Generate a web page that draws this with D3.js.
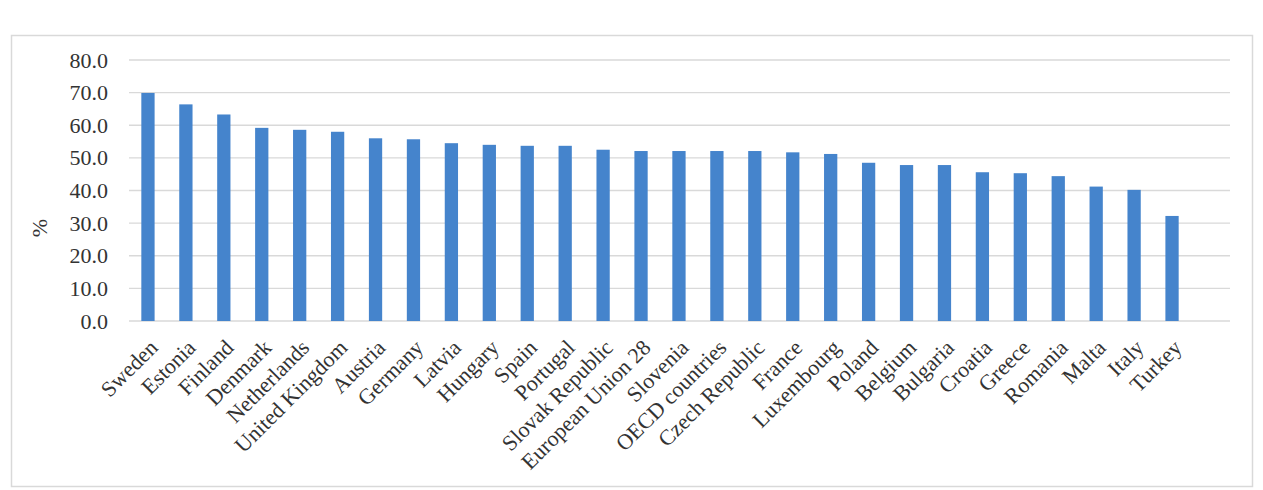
<!DOCTYPE html>
<html>
<head>
<meta charset="utf-8">
<script src="https://cdn.jsdelivr.net/npm/d3@7"></script>
<style>
  html, body { margin: 0; padding: 0; background: #fff; }
  svg { display: block; font-family: "Liberation Serif", "Times New Roman", serif; }
  .grid line { stroke: #d9d9d9; stroke-width: 1.3; }
  .tick text { fill: #333; }
</style>
</head>
<body>
<svg width="1263" height="490"></svg>
<script>
const countries = [
  'Sweden', 'Estonia', 'Finland', 'Denmark', 'Netherlands', 'United Kingdom',
  'Austria', 'Germany', 'Latvia', 'Hungary', 'Spain', 'Portugal',
  'Slovak Republic', 'European Union 28', 'Slovenia', 'OECD countries',
  'Czech Republic', 'France', 'Luxembourg', 'Poland', 'Belgium', 'Bulgaria',
  'Croatia', 'Greece', 'Romania', 'Malta', 'Italy', 'Turkey'
]
const shares = [
  69.9, 66.4, 63.3, 59.2, 58.6, 58.0,
  56.0, 55.7, 54.5, 54.0, 53.7, 53.7,
  52.5, 52.1, 52.1, 52.1,
  52.1, 51.7, 51.2, 48.5, 47.8, 47.8,
  45.6, 45.3, 44.4, 41.2, 40.2, 32.2
]
const yTicks = [0, 10, 20, 30, 40, 50, 60, 70, 80]
const yLabel = '%'

const BAR = '#4584cc'
const FONT = 22
const LEFT = 129, RIGHT = 1230, TOP = 60, BOTTOM = 321

const svg = d3.select('svg')

// outer frame of the chart
svg.append('rect')
  .attr('x', 11.5).attr('y', 35.5)
  .attr('width', 1241).attr('height', 451)
  .attr('fill', '#fff')
  .attr('stroke', '#d9d9d9')
  .attr('stroke-width', 1.5)

const x = d3.scaleBand()
  .domain(countries)
  .range([LEFT, 1191])
  .paddingInner(0.65)
  .paddingOuter(0.325)

const y = d3.scaleLinear()
  .domain([0, 80])
  .range([BOTTOM, TOP])

// gridlines
svg.append('g')
  .attr('class', 'grid')
  .selectAll('line')
  .data(yTicks)
  .join('line')
  .attr('x1', LEFT).attr('x2', RIGHT)
  .attr('y1', d => y(d)).attr('y2', d => y(d))

// y axis labels
const yAxis = svg.append('g')
  .attr('transform', `translate(${LEFT - 18},0)`)
  .call(d3.axisLeft(y).tickValues(yTicks).tickFormat(d3.format('.1f')).tickSize(0))
yAxis.select('.domain').remove()
yAxis.selectAll('text')
  .attr('font-size', FONT)
  .attr('font-family', '"Liberation Serif", serif')

svg.append('text')
  .attr('transform', `translate(47,228) rotate(-90)`)
  .attr('text-anchor', 'middle')
  .attr('font-size', FONT)
  .attr('fill', '#333')
  .text(yLabel)

// bars
svg.append('g')
  .selectAll('rect')
  .data(shares)
  .join('rect')
  .attr('x', (d, i) => x(countries[i]))
  .attr('width', x.bandwidth())
  .attr('y', d => y(d))
  .attr('height', d => y(0) - y(d))
  .attr('fill', BAR)

// category labels
const xAxis = svg.append('g')
  .attr('transform', `translate(0,${BOTTOM})`)
  .call(d3.axisBottom(x).tickSize(0))
xAxis.select('.domain').remove()
xAxis.selectAll('text')
  .attr('font-size', FONT)
  .attr('font-family', '"Liberation Serif", serif')
  .attr('text-anchor', 'end')
  .attr('transform', 'translate(11,28) rotate(-45)')
  .attr('dy', 0)
  .attr('y', 0)
</script>
</body>
</html>
